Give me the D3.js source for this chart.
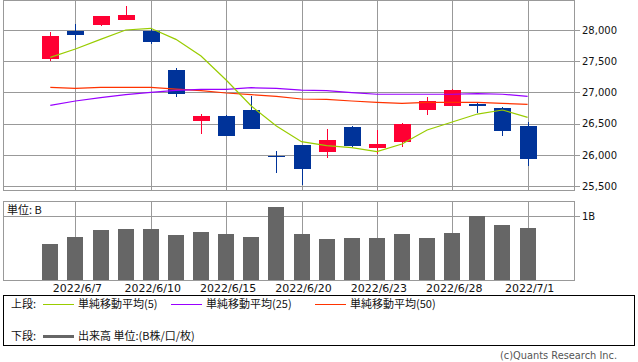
<!DOCTYPE html>
<html><head><meta charset="utf-8">
<script src="https://cdn.jsdelivr.net/npm/d3@7"></script>
<style>
html,body{margin:0;padding:0;background:#fff;}
svg{display:block;}
text{font-family:"DejaVu Sans",sans-serif;}
.jp{font-family:"Noto Sans CJK JP",sans-serif;}
</style></head>
<body>
<svg id="chart" width="638" height="362"></svg>
<script>
const dates = ["2022/6/6","2022/6/7","2022/6/8","2022/6/9","2022/6/10","2022/6/13","2022/6/14","2022/6/15","2022/6/16","2022/6/17","2022/6/20","2022/6/21","2022/6/22","2022/6/23","2022/6/24","2022/6/27","2022/6/28","2022/6/29","2022/6/30","2022/7/1"];
const opens  = [27535,27984,28085,28165,27984,27359,26546,26621,26718,25985,26157,26050,26445,26114,26210,26723,26782,26812,26750,26461];
const highs  = [27968,28096,28230,28385,28027,27391,26653,26630,26942,26060,26157,26413,26461,26402,26509,26926,27062,26830,26760,26520];
const lows   = [27503,27845,28069,28165,27781,26931,26338,26306,26418,25713,25510,25953,26130,26020,26130,26637,26782,26665,26306,25825];
const closes = [27904,27925,28224,28240,27808,26979,26621,26306,26418,25960,25771,26237,26140,26173,26493,26862,27038,26800,26385,25925];
const ma5  = [27562,27695,27850,28000,28027,27850,27583,27198,26782,26461,26210,26146,26114,26050,26173,26397,26525,26653,26718,26600];
const ma25 = [26793,26862,26915,26963,27000,27033,27049,27049,27075,27065,27038,27027,26995,26970,26970,26970,26970,26979,26970,26937];
const ma50 = [27081,27065,27081,27081,27081,27054,27027,26990,26963,26937,26894,26889,26862,26841,26825,26841,26841,26841,26825,26809];
const volumes = [0.567,0.677,0.786,0.802,0.802,0.708,0.755,0.723,0.677,1.145,0.723,0.645,0.661,0.661,0.723,0.661,0.739,1.005,0.864,0.817];
const priceTicks = [25500,26000,26500,27000,27500,28000];
const volTicks = [1];
const dateTicks = ["2022/6/7","2022/6/10","2022/6/15","2022/6/20","2022/6/23","2022/6/28","2022/7/1"];

const svg = d3.select("#chart");
const L = 3.5, R = 574.5;
const mainTop = 0.5, mainBot = 190.5;
const volTop = 201.5, volBot = 280.5;
const grid = "#999999";

const x = d3.scaleLinear().domain([0, dates.length-1]).range([50.3, 527.6]);
const y = d3.scaleLinear().domain([25500, 28000]).range([186, 30]);
const yv = d3.scaleLinear().domain([0, 1]).range([280.5, 216]);
const px = v => Math.round(v) + 0.5;

// ---- main panel grid ----
const g = svg.append("g").attr("shape-rendering","crispEdges");
g.selectAll(".hg").data(priceTicks).join("line")
  .attr("x1", L).attr("x2", R + 5)
  .attr("y1", d => px(y(d))).attr("y2", d => px(y(d)))
  .attr("stroke", grid);
g.selectAll(".vg").data(dateTicks).join("line")
  .attr("x1", d => px(x(dates.indexOf(d)))).attr("x2", d => px(x(dates.indexOf(d))))
  .attr("y1", mainTop).attr("y2", mainBot)
  .attr("stroke", grid);
g.append("rect").attr("x", L).attr("y", mainTop).attr("width", R-L).attr("height", mainBot-mainTop)
  .attr("fill","none").attr("stroke", grid);

// price labels
svg.selectAll(".pl").data(priceTicks).join("text")
  .attr("x", 582).attr("y", d => y(d) + 3.8)
  .attr("font-size", 10).attr("fill","#111")
  .text(d => d3.format(",")(d));

// ---- candles ----
const cg = svg.append("g").attr("shape-rendering","crispEdges");
const idx = d3.range(dates.length);
const col = i => closes[i] >= opens[i] ? "#ff0033" : "#003399";
cg.selectAll(".wick").data(idx).join("line")
  .attr("x1", i => px(x(i))).attr("x2", i => px(x(i)))
  .attr("y1", i => y(highs[i])).attr("y2", i => y(lows[i]))
  .attr("stroke", col).attr("stroke-width", 1);
cg.selectAll(".body").data(idx).join("rect")
  .attr("x", i => Math.round(x(i)) - 8)
  .attr("width", 17)
  .attr("y", i => y(Math.max(opens[i], closes[i])))
  .attr("height", i => Math.max(1.5, Math.abs(y(opens[i]) - y(closes[i]))))
  .attr("fill", col);

// ---- moving averages ----
const lg = svg.append("g");
const line = arr => d3.line().x((d,i) => x(i)).y(d => y(d))(arr);
lg.append("path").attr("d", line(ma50)).attr("fill","none").attr("stroke","#ff3300").attr("stroke-width",1.2);
lg.append("path").attr("d", line(ma25)).attr("fill","none").attr("stroke","#9900ff").attr("stroke-width",1.2);
lg.append("path").attr("d", line(ma5)).attr("fill","none").attr("stroke","#99cc00").attr("stroke-width",1.2);

// ---- volume panel ----
const vg = svg.append("g").attr("shape-rendering","crispEdges");
vg.selectAll(".vhg").data(volTicks).join("line")
  .attr("x1", L).attr("x2", R + 5)
  .attr("y1", d => px(yv(d))).attr("y2", d => px(yv(d)))
  .attr("stroke", grid);
vg.selectAll(".vvg").data(dateTicks).join("line")
  .attr("x1", d => px(x(dates.indexOf(d)))).attr("x2", d => px(x(dates.indexOf(d))))
  .attr("y1", volTop).attr("y2", volBot)
  .attr("stroke", grid);
vg.selectAll(".vbar").data(idx).join("rect")
  .attr("x", i => Math.round(x(i)) - 8)
  .attr("width", 16)
  .attr("y", i => yv(volumes[i]))
  .attr("height", i => yv(0) - yv(volumes[i]))
  .attr("fill", "#666666");
vg.append("rect").attr("x", L).attr("y", volTop).attr("width", R-L).attr("height", volBot-volTop)
  .attr("fill","none").attr("stroke", grid);
// white backdrop under unit label
svg.append("text").attr("class","jp").attr("x", 7).attr("y", 214)
  .attr("font-size", 11).attr("fill","#111").text("単位: B");
svg.selectAll(".vl").data(volTicks).join("text")
  .attr("x", 582).attr("y", d => yv(d) + 3.8)
  .attr("font-size", 10).attr("fill","#111").text(d => d + "B");

// date labels
svg.selectAll(".dl").data(dateTicks).join("text")
  .attr("x", d => x(dates.indexOf(d)) + 2).attr("y", 292)
  .attr("text-anchor","middle").attr("font-size", 11).attr("fill","#111")
  .text(d => d);

// ---- legend ----
svg.append("rect").attr("x", 3.5).attr("y", 295.5).attr("width", 631).attr("height", 50)
  .attr("fill","none").attr("stroke","#000").attr("shape-rendering","crispEdges");
const legRow1 = [
  {label:"単純移動平均(5)", color:"#99cc00", x1:43},
  {label:"単純移動平均(25)", color:"#9900ff", x1:171},
  {label:"単純移動平均(50)", color:"#ff3300", x1:315}
];
svg.append("text").attr("class","jp").attr("x", 11).attr("y", 308).attr("font-size", 11).attr("fill","#111").text("上段:");
legRow1.forEach(d => {
  svg.append("line").attr("x1", d.x1).attr("x2", d.x1 + 31).attr("y1", 304.5).attr("y2", 304.5)
    .attr("stroke", d.color).attr("stroke-width", 1).attr("shape-rendering","crispEdges");
  svg.append("text").attr("class","jp").attr("x", d.x1 + 35).attr("y", 308)
    .attr("font-size", 11).attr("fill","#111").text(d.label);
});
svg.append("text").attr("class","jp").attr("x", 11).attr("y", 340).attr("font-size", 11).attr("fill","#111").text("下段:");
svg.append("line").attr("x1", 43).attr("x2", 74).attr("y1", 336.5).attr("y2", 336.5)
  .attr("stroke", "#666666").attr("stroke-width", 3).attr("shape-rendering","crispEdges");
svg.append("text").attr("class","jp").attr("x", 78).attr("y", 340)
  .attr("font-size", 11).attr("fill","#111").text("出来高 単位:(B株/口/枚)");

svg.append("text").attr("x", 617).attr("y", 359).attr("text-anchor","end")
  .attr("font-size", 10).attr("fill","#555")
  .attr("textLength", 117).attr("lengthAdjust","spacingAndGlyphs")
  .text("(c)Quants Research Inc.");
</script>
</body></html>
